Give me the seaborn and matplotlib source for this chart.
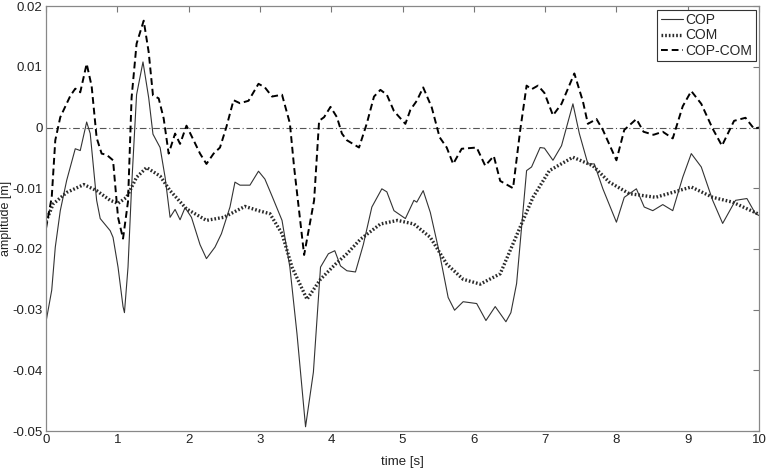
import matplotlib
matplotlib.use("Agg")
import matplotlib.pyplot as plt
import seaborn as sns
import pandas as pd

# values (time in s, amplitude in m)
cop_t = [0, 0.08, 0.13, 0.2, 0.29, 0.41, 0.48, 0.57, 0.62, 0.71, 0.76, 0.9, 0.94, 1.01, 1.08, 1.1,
         1.15, 1.2, 1.27, 1.36, 1.44, 1.5, 1.6, 1.67, 1.74, 1.81, 1.88, 1.95, 2.04, 2.16, 2.25, 2.37,
         2.46, 2.58, 2.65, 2.72, 2.86, 2.98, 3.07, 3.17, 3.31, 3.42, 3.52, 3.64, 3.75, 3.85, 3.96,
         4.05, 4.13, 4.22, 4.34, 4.45, 4.57, 4.71, 4.78, 4.88, 5.04, 5.16, 5.2, 5.29, 5.39, 5.52,
         5.64, 5.73, 5.85, 6.04, 6.17, 6.3, 6.45, 6.52, 6.6, 6.74, 6.81, 6.93, 6.99, 7.11, 7.23,
         7.39, 7.48, 7.6, 7.69, 7.81, 8.0, 8.11, 8.28, 8.39, 8.51, 8.65, 8.79, 8.93, 9.05, 9.19,
         9.35, 9.49, 9.67, 9.83, 9.95, 10.0]
cop_v = [-0.032, -0.0268, -0.0197, -0.0137, -0.0087, -0.0035, -0.0038, 0.0009, -0.001, -0.012,
         -0.015, -0.017, -0.0181, -0.023, -0.0295, -0.0305, -0.023, -0.0098, 0.0054, 0.0108, 0.0049,
         -0.0011, -0.0033, -0.0082, -0.0148, -0.0135, -0.0152, -0.0132, -0.0148, -0.0193, -0.0216,
         -0.0197, -0.0175, -0.0131, -0.009, -0.0095, -0.0095, -0.0072, -0.0085, -0.0113, -0.0153,
         -0.023, -0.034, -0.0493, -0.0403, -0.023, -0.0208, -0.0203, -0.0228, -0.0236, -0.0238,
         -0.0193, -0.0131, -0.0101, -0.0106, -0.0137, -0.015, -0.012, -0.0123, -0.0104, -0.014,
         -0.0208, -0.028, -0.0301, -0.0287, -0.029, -0.0318, -0.0295, -0.032, -0.0305, -0.0257,
         -0.0071, -0.0065, -0.0033, -0.0034, -0.0054, -0.003, 0.0039, -0.001, -0.006, -0.006,
         -0.0101, -0.0156, -0.0115, -0.0101, -0.0131, -0.0137, -0.0127, -0.0137, -0.0082, -0.0043,
         -0.0065, -0.012, -0.0158, -0.012, -0.0117, -0.0142, -0.0145]

com_t = [0, 0.1, 0.29, 0.53, 0.71, 0.9, 1.01, 1.13, 1.27, 1.41, 1.6, 1.74, 1.97, 2.25, 2.49, 2.79,
         2.98, 3.14, 3.31, 3.45, 3.66, 3.85, 4.06, 4.22, 4.41, 4.69, 4.93, 5.16, 5.39, 5.62, 5.85,
         6.09, 6.37, 6.65, 6.83, 7.06, 7.39, 7.67, 7.9, 8.18, 8.55, 9.05, 9.35, 9.63, 10.0]
com_v = [-0.0155, -0.0126, -0.0107, -0.0094, -0.0104, -0.012, -0.0125, -0.0115, -0.0082, -0.0066,
         -0.008, -0.0104, -0.0134, -0.0153, -0.0148, -0.013, -0.0137, -0.0142, -0.0175, -0.023,
         -0.0283, -0.025, -0.0225, -0.0208, -0.0184, -0.0159, -0.0153, -0.0159, -0.0181, -0.0225,
         -0.025, -0.0258, -0.0241, -0.0164, -0.0115, -0.0071, -0.0049, -0.0063, -0.009, -0.0109,
         -0.0115, -0.0098, -0.0115, -0.0123, -0.0143]

diff_t = [0, 0.08, 0.13, 0.2, 0.34, 0.41, 0.48, 0.57, 0.64, 0.71, 0.78, 0.85, 0.94, 1.01, 1.08,
          1.15, 1.2, 1.27, 1.37, 1.44, 1.5, 1.58, 1.65, 1.72, 1.81, 1.88, 1.97, 2.07, 2.16, 2.25,
          2.35, 2.44, 2.53, 2.63, 2.72, 2.84, 2.98, 3.07, 3.17, 3.31, 3.42, 3.48, 3.62, 3.76, 3.83,
          3.9, 3.99, 4.08, 4.15, 4.22, 4.39, 4.5, 4.6, 4.69, 4.78, 4.88, 5.04, 5.11, 5.2, 5.29,
          5.41, 5.52, 5.62, 5.71, 5.83, 6.04, 6.16, 6.28, 6.37, 6.55, 6.65, 6.74, 6.81, 6.9, 6.99,
          7.11, 7.23, 7.41, 7.53, 7.6, 7.72, 7.81, 8.0, 8.11, 8.28, 8.38, 8.52, 8.65, 8.79, 8.93,
          9.05, 9.19, 9.35, 9.48, 9.65, 9.81, 9.93, 10.0]
diff_v = [-0.0166, -0.0115, -0.0021, 0.0017, 0.0052, 0.0064, 0.0058, 0.0105, 0.0068, -0.0017,
          -0.0043, -0.0045, -0.0054, -0.0148, -0.0183, -0.0122, 0.0049, 0.0138, 0.0176, 0.0124,
          0.0053, 0.0048, 0.0015, -0.0043, -0.001, -0.0027, 0.0003, -0.0021, -0.0043, -0.006,
          -0.0043, -0.0033, 0.0001, 0.0045, 0.0040, 0.0044, 0.0072, 0.0066, 0.0051, 0.0054, 0.0007,
          -0.0066, -0.021, -0.012, 0.0011, 0.0017, 0.0034, 0.0017, -0.001, -0.0021, -0.0033,
          0.0007, 0.0051, 0.0062, 0.0054, 0.0027, 0.0006, 0.0029, 0.0044, 0.0066, 0.0033, -0.0016,
          -0.0033, -0.006, -0.0035, -0.0033, -0.0063, -0.0047, -0.0088, -0.010, -0.0005, 0.0069,
          0.0063, 0.0069, 0.0057, 0.002, 0.0039, 0.0089, 0.0043, 0.0006, 0.0014, -0.0004, -0.0054,
          -0.0004, 0.0014, -0.0007, -0.0012, -0.0007, -0.0018, 0.0035, 0.006, 0.0039, -0.0002,
          -0.003, 0.0011, 0.0016, -0.0002, 0.0]

zero_level = 0.0

sns.set_style("white")
plt.rcParams['font.family'] = ['Liberation Sans', 'DejaVu Sans']
plt.rcParams['axes.unicode_minus'] = False

fig = plt.figure(figsize=(7.67, 4.69), dpi=100)
ax = fig.add_axes([0.06, 0.081, 0.9296, 0.906])

ax.axhline(zero_level, color='#555555', lw=0.8, ls='-.', dashes=(6, 2.5, 1, 2.5), zorder=1)

cop = pd.DataFrame({'t': cop_t, 'v': cop_v})
com = pd.DataFrame({'t': com_t, 'v': com_v})
dif = pd.DataFrame({'t': diff_t, 'v': diff_v})

sns.lineplot(data=cop, x='t', y='v', ax=ax, color='#333333', lw=0.8, label='COP', sort=False)
sns.lineplot(data=com, x='t', y='v', ax=ax, color='#2a2a2a', lw=2.4, ls=(0, (0.5, 0.6)),
             label='COM', sort=False)
sns.lineplot(data=dif, x='t', y='v', ax=ax, color='black', lw=1.4, ls=(0, (3.5, 2)),
             label='COP-COM', sort=False)

ax.set_xlim(0, 10)
ax.set_ylim(-0.05, 0.02)
ax.set_xticks(range(0, 11))
ax.set_yticks([-0.05, -0.04, -0.03, -0.02, -0.01, 0, 0.01, 0.02])
ax.yaxis.set_major_formatter(matplotlib.ticker.FuncFormatter(lambda v, p: '%g' % round(v, 3)))
ax.tick_params(direction='in', length=4, width=0.8, color='#777777', labelsize=9.5,
               top=True, right=True, labelcolor='#222222', pad=2.5)
for s in ax.spines.values():
    s.set_color('#888888')
    s.set_linewidth(0.9)

ax.set_xlabel('time [s]', fontsize=9.5, color='#222222', va='center')
ax.set_ylabel('amplitude [m]', fontsize=9, color='#222222', va='center')
ax.xaxis.set_label_coords(0.5, -0.072)
ax.yaxis.set_label_coords(-0.056, 0.5)

leg = ax.legend(loc='upper right', fontsize=10, frameon=True, fancybox=False, framealpha=1,
                edgecolor='#333333', handlelength=1.6, handletextpad=0.15, labelspacing=0.1,
                borderpad=0.25, borderaxespad=0.25)
leg.get_frame().set_linewidth(0.8)

plt.savefig('out.png', dpi=100)
